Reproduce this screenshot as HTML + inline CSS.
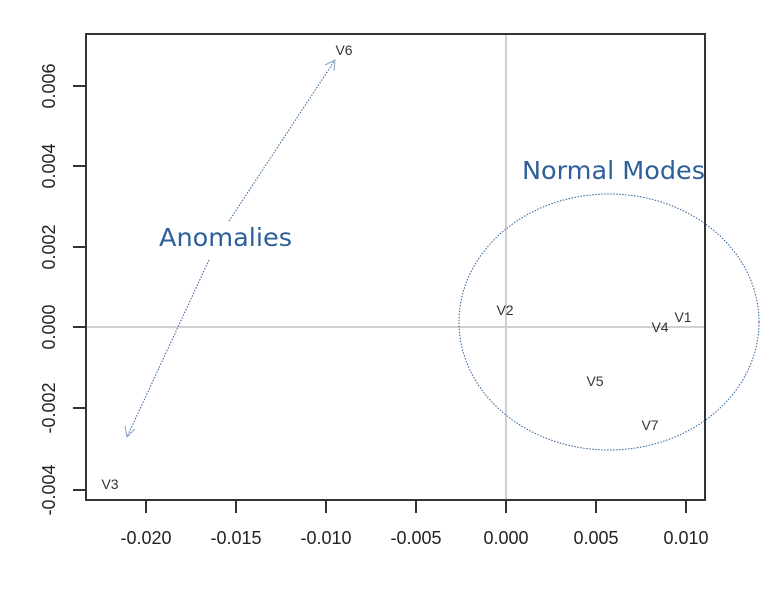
<!DOCTYPE html>
<html><head><meta charset="utf-8"><style>body{margin:0;background:#fff}</style></head><body>
<svg width="780" height="587" xmlns="http://www.w3.org/2000/svg" font-family="Liberation Sans, sans-serif">
<rect width="780" height="587" fill="#fff"/>
<line x1="506" y1="34" x2="506" y2="500" stroke="#d0d0d0" stroke-width="2"/>
<line x1="86" y1="327" x2="705" y2="327" stroke="#d0d0d0" stroke-width="2"/>
<rect x="86" y="34" width="619" height="466" fill="none" stroke="#333" stroke-width="2"/>
<g stroke="#333" stroke-width="2">
<line x1="146" y1="500" x2="146" y2="513"/><line x1="236" y1="500" x2="236" y2="513"/><line x1="326" y1="500" x2="326" y2="513"/><line x1="416" y1="500" x2="416" y2="513"/><line x1="506" y1="500" x2="506" y2="513"/><line x1="596" y1="500" x2="596" y2="513"/><line x1="686" y1="500" x2="686" y2="513"/>
<line x1="73" y1="86" x2="86" y2="86"/><line x1="73" y1="166" x2="86" y2="166"/><line x1="73" y1="247" x2="86" y2="247"/><line x1="73" y1="327" x2="86" y2="327"/><line x1="73" y1="408" x2="86" y2="408"/><line x1="73" y1="490" x2="86" y2="490"/>
</g>
<g font-size="18" fill="#222" text-anchor="middle">
<text x="146" y="544">-0.020</text><text x="236" y="544">-0.015</text><text x="326" y="544">-0.010</text><text x="416" y="544">-0.005</text><text x="506" y="544">0.000</text><text x="596" y="544">0.005</text><text x="686" y="544">0.010</text>
<text transform="translate(55,86) rotate(-90)">0.006</text>
<text transform="translate(55,166) rotate(-90)">0.004</text>
<text transform="translate(55,247) rotate(-90)">0.002</text>
<text transform="translate(55,327) rotate(-90)">0.000</text>
<text transform="translate(55,408) rotate(-90)">-0.002</text>
<text transform="translate(55,490) rotate(-90)">-0.004</text>
</g>
<g font-size="14" fill="#333" text-anchor="middle">
<text x="344" y="55">V6</text><text x="110" y="489">V3</text><text x="505" y="315">V2</text><text x="683" y="322">V1</text><text x="660" y="332">V4</text><text x="595" y="386">V5</text><text x="650" y="430">V7</text>
</g>
<g stroke="#2e5f9a" stroke-width="1" fill="none">
<line x1="229" y1="221" x2="335" y2="60" stroke-dasharray="1.5,1.5"/>
<polyline points="325,65 335,60 334,71" stroke="#8aa4c8"/>
<line x1="209" y1="260" x2="127" y2="437" stroke-dasharray="1.5,1.5"/>
<polyline points="125,426 127,437 135,429" stroke="#8aa4c8"/>
<ellipse cx="609" cy="322" rx="150" ry="128" stroke-dasharray="1.5,1.5"/>
</g>
<g font-family="DejaVu Sans, sans-serif" fill="#2e5f9a">
<text x="522" y="179" font-size="25" textLength="183" lengthAdjust="spacingAndGlyphs">Normal Modes</text>
<text x="159" y="246" font-size="25" textLength="133" lengthAdjust="spacingAndGlyphs">Anomalies</text>
</g>
</svg>
</body></html>
